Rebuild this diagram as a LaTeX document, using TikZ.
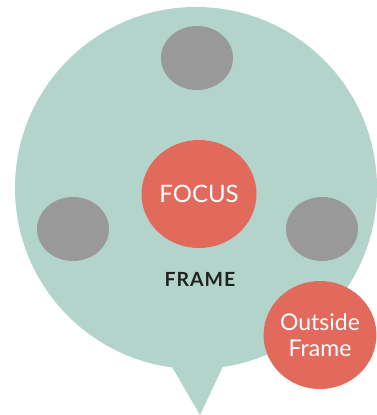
\documentclass[tikz,border=0pt]{standalone}
\usepackage{fontspec}
\setmainfont{Lato}
\usetikzlibrary{shapes.geometric}
\definecolor{framebg}{HTML}{B2D4CA}
\definecolor{dotgray}{HTML}{999999}
\definecolor{focusred}{HTML}{E26A5D}
\definecolor{labeldark}{HTML}{222222}
\tikzset{
  dot/.style={ellipse,fill=dotgray,minimum width=72pt,minimum height=64pt,inner sep=0pt},
  redcirc/.style={ellipse,fill=focusred,text=white,align=center,inner sep=0pt},
}
\begin{document}
\begin{tikzpicture}[x=1pt,y=-1pt]
\useasboundingbox(0,0)rectangle(377,415);
% the speech bubble
\fill[framebg](196,188)circle(181);
\fill[framebg](168,360)--(200,415)--(226,360)--cycle;
%
\node[dot](top)at(197,58){};
\node[dot](left)at(73,229){};
\node[dot](right)at(322,229){};
\node[redcirc,minimum width=115pt,minimum height=108pt,font=\fontsize{24}{28}\selectfont](focus)at(199,194){FOCUS};
\node[font=\bfseries\fontsize{19.5}{22}\selectfont\addfontfeatures{LetterSpace=5},text=labeldark](frame)at(200,279){FRAME};
\node[redcirc,minimum width=112pt,minimum height=108pt,font=\fontsize{23}{27}\selectfont](outside)at(320,335){Outside\\[-1pt]Frame};
\end{tikzpicture}
\end{document}
